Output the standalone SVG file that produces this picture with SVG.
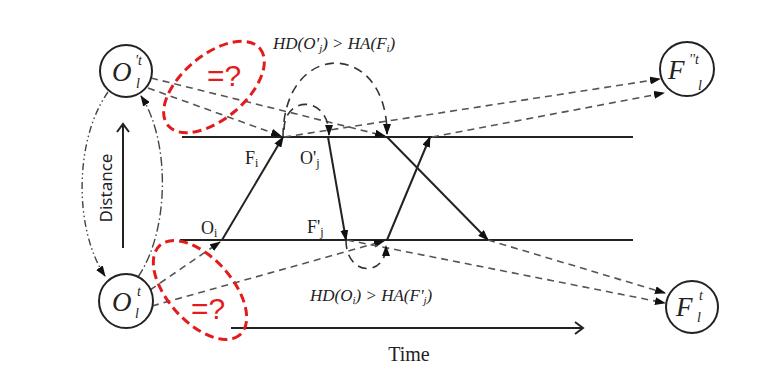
<svg xmlns="http://www.w3.org/2000/svg" width="772" height="380" viewBox="0 0 772 380">
<style>
.bg{fill:#fff}
.node{fill:#fff;stroke:#222;stroke-width:2}
.ser{font-family:"Liberation Serif","Times New Roman",serif;fill:#222}
.it{font-style:italic}
.solid{fill:none;stroke:#222;stroke-width:2}
.dash{fill:none;stroke:#555;stroke-width:1.6;stroke-dasharray:7 5}
.loop{fill:none;stroke:#333;stroke-width:1.6;stroke-dasharray:9 6}
.dd{fill:none;stroke:#444;stroke-width:1.4;stroke-dasharray:7 3 1.5 3 1.5 3}
.dt{fill:none;stroke:#444;stroke-width:1.4;stroke-dasharray:9 3 1.5 3}
.red{fill:none;stroke:#e31b1b;stroke-width:3;stroke-dasharray:9 5}
.redt{font-family:"Liberation Sans",Arial,sans-serif;font-size:30px;fill:#e31b1b}
.axis{fill:none;stroke:#222;stroke-width:2}
</style>
<defs>
<marker id="ah" markerWidth="11" markerHeight="8" refX="10" refY="4" orient="auto" markerUnits="userSpaceOnUse">
<path d="M0,0 L11,4 L0,8 Z" fill="#111"/>
</marker>
<marker id="open" markerWidth="12" markerHeight="14" refX="10" refY="7" orient="auto" markerUnits="userSpaceOnUse">
<path d="M2,1 L10,7 L2,13" fill="none" stroke="#222" stroke-width="2"/>
</marker>
</defs>
<rect class="bg" x="0" y="0" width="772" height="380"/>

<g id="timelines">
<line class="solid" x1="182" y1="137" x2="633" y2="137"/>
<line class="solid" x1="180" y1="240" x2="633" y2="240"/>
</g>

<g id="connectors">
<path class="solid" d="M222,240 L283,137" marker-end="url(#ah)"/>
<path class="solid" d="M328,137 L346,240" marker-end="url(#ah)"/>
<path class="solid" d="M387,240 L430,137" marker-end="url(#ah)"/>
<path class="solid" d="M387,137 L488,240" marker-end="url(#ah)"/>

<path class="dash" d="M151,78 L385,136" marker-end="url(#ah)"/>
<path class="dash" d="M148,88 L281,136" marker-end="url(#ah)"/>
<path class="dash" d="M284,137 L660,79" marker-end="url(#ah)"/>
<path class="dash" d="M432,137 L664,93" marker-end="url(#ah)"/>
<path class="dash" d="M150,290 L220,242" marker-end="url(#ah)"/>
<path class="dash" d="M152,306 L384,241" marker-end="url(#ah)"/>
<path class="dash" d="M347,240 L665,303" marker-end="url(#ah)"/>
<path class="dash" d="M488,240 L665,293" marker-end="url(#ah)"/>

<path class="loop" d="M283,137 C283,39 387,39 387,134" marker-end="url(#ah)"/>
<path class="loop" d="M284,130 C284,95 329,95 329,135" marker-end="url(#ah)"/>
<path class="loop" d="M346,240 C346,277 386,277 386,246" marker-end="url(#ah)"/>

<path class="dd" d="M108,92 C74,140 74,230 105,276" marker-end="url(#ah)"/>
<path class="dt" d="M138,277 C170,230 170,140 141,96" marker-end="url(#ah)"/>
</g>

<g id="axes">
<line class="axis" x1="123" y1="248" x2="123" y2="124" marker-end="url(#open)"/>
<text x="107" y="188" transform="rotate(-90 107 188)" text-anchor="middle" dominant-baseline="middle" font-family="'Noto Sans','Open Sans',sans-serif" font-size="17" fill="#222">Distance</text>
<line class="axis" x1="231" y1="328" x2="583" y2="328" marker-end="url(#open)"/>
<text class="ser" x="409" y="361" text-anchor="middle" font-size="20">Time</text>
</g>

<g id="node-O1p">
<circle class="node" cx="126" cy="71" r="26"/>
<text class="ser it" x="112" y="81" font-size="27">O</text>
<text class="ser it" x="135" y="65" font-size="14">'t</text>
<text class="ser it" x="136" y="88" font-size="14">l</text>
</g>
<g id="node-O1">
<circle class="node" cx="126" cy="301" r="27"/>
<text class="ser it" x="112" y="311" font-size="27">O</text>
<text class="ser it" x="137" y="296" font-size="14">t</text>
<text class="ser it" x="135" y="318" font-size="14">l</text>
</g>
<g id="node-F2p">
<circle class="node" cx="687" cy="69" r="27"/>
<text class="ser it" x="668" y="79" font-size="27">F</text>
<text class="ser it" x="689" y="64" font-size="14">''t</text>
<text class="ser it" x="698" y="90" font-size="14">l</text>
</g>
<g id="node-F1">
<circle class="node" cx="692" cy="307" r="26"/>
<text class="ser it" x="676" y="316" font-size="27">F</text>
<text class="ser it" x="699" y="300" font-size="14">t</text>
<text class="ser it" x="697" y="322" font-size="14">l</text>
</g>

<g id="red-marks">
<ellipse class="red" cx="214" cy="87" rx="60" ry="32" transform="rotate(-40 214 87)"/>
<text class="redt" x="207" y="86">=?</text>
<ellipse class="red" cx="200" cy="290" rx="60" ry="32" transform="rotate(48 200 290)"/>
<text class="redt" x="191" y="319">=?</text>
</g>

<g id="labels">
<text class="ser" x="245" y="164" font-size="18">F<tspan font-size="12" dy="3">i</tspan></text>
<text class="ser" x="300" y="164" font-size="18">O'<tspan font-size="12" dy="3">j</tspan></text>
<text class="ser" x="201" y="234" font-size="18">O<tspan font-size="12" dy="3">i</tspan></text>
<text class="ser" x="307" y="233" font-size="18">F'<tspan font-size="12" dy="3">j</tspan></text>
<text class="ser it" x="273" y="49" font-size="17" fill="#333">HD(O'<tspan font-size="11" dy="3">j</tspan><tspan dy="-3">) &gt; HA(F</tspan><tspan font-size="11" dy="3">i</tspan><tspan dy="-3">)</tspan></text>
<text class="ser it" x="310" y="301" font-size="17" fill="#333">HD(O<tspan font-size="11" dy="3">i</tspan><tspan dy="-3">) &gt; HA(F'</tspan><tspan font-size="11" dy="3">j</tspan><tspan dy="-3">)</tspan></text>
</g>
</svg>
